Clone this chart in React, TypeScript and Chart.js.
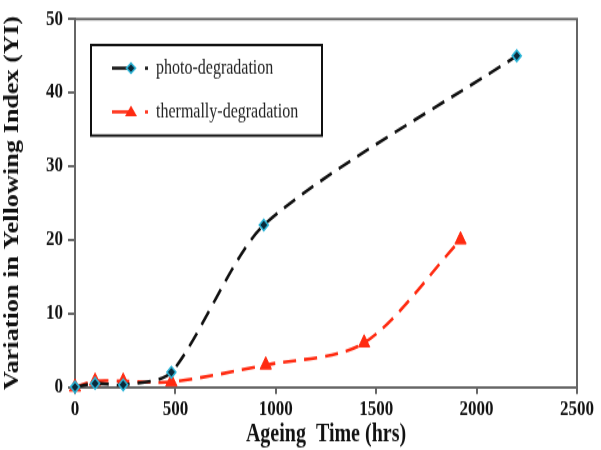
import React, { useEffect, useRef } from "react";
import { Chart, registerables } from "chart.js";

Chart.register(...registerables);

const photoX = [0, 100, 240, 480, 940, 2200];
const photoY = [0, 0.5, 0.3, 2, 22, 45];
const thermalX = [0, 100, 240, 480, 950, 1440, 1920];
const thermalY = [0, 0.8, 0.8, 0.7, 3, 6, 20];
const seriesNames = ["photo-degradation", "thermally-degradation"];
const xTitle = "Ageing  Time (hrs)";
const yTitle = "Variation in Yellowing Index (YI)";

const FONT = "'Liberation Serif', serif";
const STRETCH = 1.25;
const W = 601;
const H = 360;

const framePlugin = {
  id: "frameAndLegend",
  afterDraw(chart: any) {
    const { ctx, chartArea } = chart;
    ctx.save();
    ctx.strokeStyle = "#666";
    ctx.lineWidth = 2;
    ctx.beginPath();
    ctx.moveTo(chartArea.left, chartArea.top);
    ctx.lineTo(chartArea.right, chartArea.top);
    ctx.lineTo(chartArea.right, chartArea.bottom);
    ctx.stroke();

    ctx.strokeStyle = "#111";
    ctx.lineWidth = 2;
    ctx.strokeRect(91, 36, 231, 72.5);

    const entries = [
      { y: 54.5, color: "#111", marker: "diamond", name: seriesNames[0] },
      { y: 89.5, color: "#ff2a10", marker: "triangle", name: seriesNames[1] },
    ];
    entries.forEach((e) => {
      ctx.strokeStyle = e.color;
      ctx.lineWidth = 2.5;
      ctx.beginPath();
      ctx.moveTo(112, e.y);
      ctx.lineTo(132, e.y);
      ctx.stroke();
      if (e.marker === "diamond") {
        ctx.fillStyle = "#0a2a3a";
        ctx.strokeStyle = "#2bb5d8";
        ctx.lineWidth = 1.5;
        ctx.beginPath();
        ctx.moveTo(131, e.y - 4);
        ctx.lineTo(135.5, e.y);
        ctx.lineTo(131, e.y + 4);
        ctx.lineTo(126.5, e.y);
        ctx.closePath();
        ctx.fill();
        ctx.stroke();
      } else {
        ctx.fillStyle = "#ff2a10";
        ctx.beginPath();
        ctx.moveTo(131, e.y - 5);
        ctx.lineTo(137, e.y + 3.5);
        ctx.lineTo(125, e.y + 3.5);
        ctx.closePath();
        ctx.fill();
      }
      ctx.fillStyle = e.color;
      ctx.fillRect(145, e.y - 1.2, 3, 2.5);
      ctx.fillStyle = "#222";
      ctx.font = `16px ${FONT}`;
      ctx.textBaseline = "middle";
      ctx.textAlign = "left";
      ctx.fillText(e.name, 156, e.y);
    });
    ctx.restore();
  },
};

export default function App() {
  const ref = useRef<HTMLCanvasElement | null>(null);
  useEffect(() => {
    if (!ref.current) return;
    const chart = new Chart(ref.current, {
      type: "line",
      data: {
        datasets: [
          {
            label: seriesNames[0],
            data: photoX.map((x, i) => ({ x, y: photoY[i] })),
            borderColor: "#111",
            borderWidth: 2.6,
            borderDash: [13, 8],
            tension: 0.25,
            pointStyle: "rectRot",
            pointRadius: 4.5,
            pointBackgroundColor: "#0a2a3a",
            pointBorderColor: "#2bb5d8",
            pointBorderWidth: 1.5,
            fill: false,
            clip: false as any,
          },
          {
            label: seriesNames[1],
            data: thermalX.map((x, i) => ({ x, y: thermalY[i] })),
            borderColor: "#ff2a10",
            borderWidth: 2.6,
            borderDash: [13, 8],
            tension: 0.3,
            pointStyle: "triangle",
            pointRadius: 6.5,
            pointBackgroundColor: "#ff2a10",
            pointBorderColor: "#ff2a10",
            pointBorderWidth: 1,
            fill: false,
            clip: false as any,
          },
        ],
      },
      options: {
        animation: false,
        responsive: false,
        layout: { padding: { top: 12.8, right: 24, left: 0, bottom: 0 } },
        plugins: { legend: { display: false }, tooltip: { enabled: false } },
        scales: {
          x: {
            type: "linear",
            min: 0,
            max: 2500,
            afterFit: (s: any) => {
              s.height = 50.4;
            },
            ticks: {
              stepSize: 500,
              color: "#111",
              font: { family: FONT, size: 17, weight: "bold" },
              padding: 2,
              maxRotation: 0,
              callback: (v: any) => String(v),
            },
            grid: {
              display: true,
              drawOnChartArea: false,
              drawTicks: true,
              tickLength: 5.6,
              color: "#666",
              lineWidth: 2,
            },
            border: { display: true, color: "#666", width: 2 },
            title: {
              display: true,
              text: xTitle,
              color: "#111",
              font: { family: FONT, size: 20, weight: "bold" },
              padding: { top: 2, bottom: 0 },
            },
          },
          y: {
            type: "linear",
            min: 0,
            max: 50,
            afterFit: (s: any) => {
              s.width = 75;
            },
            ticks: {
              stepSize: 10,
              color: "#111",
              font: { family: FONT, size: 17, weight: "bold" },
              padding: 5,
              callback: (v: any) => String(v),
            },
            grid: {
              display: true,
              drawOnChartArea: false,
              drawTicks: true,
              tickLength: 7,
              color: "#666",
              lineWidth: 2,
            },
            border: { display: true, color: "#666", width: 2 },
            title: {
              display: true,
              text: yTitle,
              color: "#111",
              font: { family: FONT, size: 21, weight: "bold" },
              padding: { top: 0, bottom: 3 },
            },
          },
        },
      },
      plugins: [framePlugin],
    } as any);
    return () => chart.destroy();
  }, []);
  return (
    <div style={{ position: "fixed", left: 0, top: 0, width: W, height: H * STRETCH, background: "#fff", overflow: "hidden" }}>
      <div style={{ width: W, height: H, transform: `scaleY(${STRETCH})`, transformOrigin: "0 0" }}>
        <canvas ref={ref} width={W} height={H} style={{ width: W, height: H, display: "block" }} />
      </div>
    </div>
  );
}
